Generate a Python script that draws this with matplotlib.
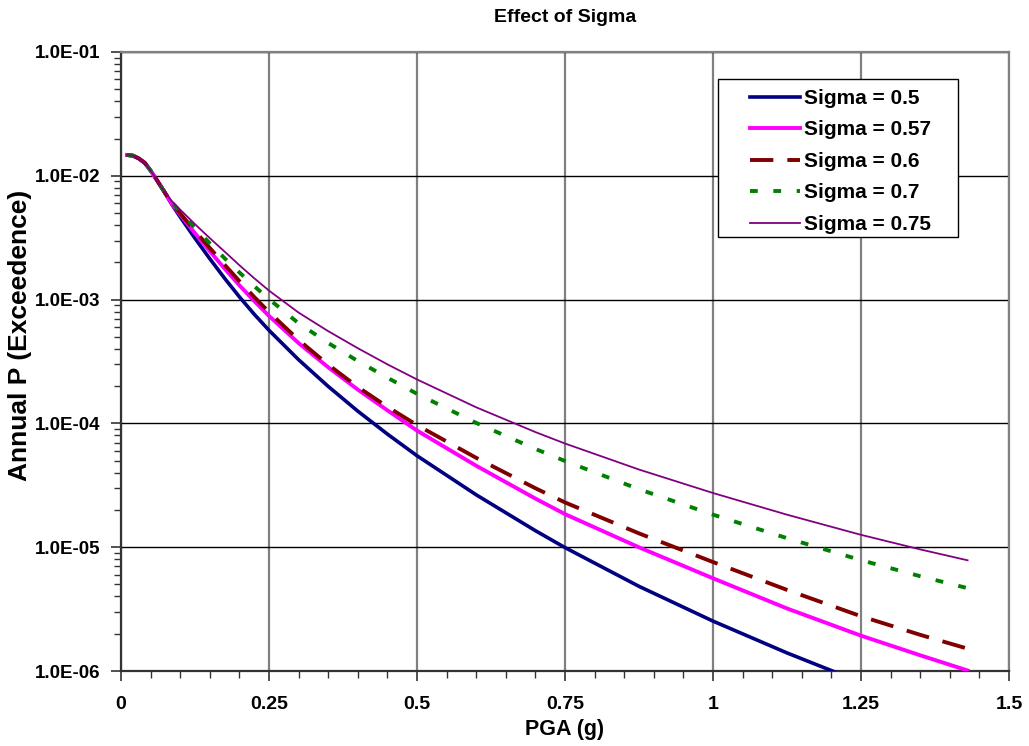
import matplotlib
matplotlib.use("Agg")
import matplotlib.pyplot as plt
from matplotlib.patches import Rectangle
from matplotlib.ticker import FixedLocator, LogLocator, NullFormatter, MultipleLocator

plt.rcParams['font.family'] = ['Liberation Sans', 'DejaVu Sans']

# ---- data ----
# shared low-PGA part (all curves coincide)
x_start = [0.01, 0.02, 0.03, 0.04, 0.05, 0.06, 0.07]
p_start = [0.01472, 0.01455, 0.01380, 0.01274, 0.01102, 0.00933, 0.00785]

x_main = [0.085, 0.1, 0.125, 0.15, 0.175, 0.2, 0.225, 0.25, 0.3, 0.35, 0.4, 0.45, 0.5,
          0.6, 0.7, 0.75, 0.875, 1.0, 1.125, 1.25, 1.35, 1.43]

p_sigma_050 = [0.005957, 0.004645, 0.003126, 0.002138, 0.001486, 0.001052, 7.62e-4, 5.65e-4,
               3.27e-4, 1.99e-4, 1.256e-4, 8.2e-5, 5.48e-5, 2.65e-5, 1.36e-5, 9.93e-6,
               4.83e-6, 2.53e-6, 1.40e-6, 8.1e-7]
p_sigma_057 = [0.006026, 0.004848, 0.003432, 0.002458, 0.001780, 0.001305, 9.73e-4, 7.38e-4,
               4.45e-4, 2.84e-4, 1.875e-4, 1.275e-4, 8.75e-5, 4.55e-5, 2.47e-5, 1.85e-5,
               9.98e-6, 5.61e-6, 3.20e-6, 1.93e-6, 1.34e-6, 1.01e-6]
p_sigma_060 = [0.006095, 0.004971, 0.003581, 0.002612, 0.001914, 0.001409, 0.00105, 7.93e-4,
               4.72e-4, 2.98e-4, 1.968e-4, 1.361e-4, 9.69e-5, 5.27e-5, 2.995e-5, 2.30e-5,
               1.293e-5, 7.59e-6, 4.52e-6, 2.77e-6, 1.96e-6, 1.516e-6]
p_sigma_070 = [0.006166, 0.005117, 0.003793, 0.002844, 0.002158, 0.001656, 0.001285, 0.001009,
               6.44e-4, 4.46e-4, 3.19e-4, 2.34e-4, 1.734e-4, 1.009e-4, 6.22e-5, 4.97e-5,
               2.94e-5, 1.832e-5, 1.183e-5, 7.86e-6, 5.83e-6, 4.67e-6]
p_sigma_075 = [0.00631, 0.005325, 0.004064, 0.003136, 0.002442, 0.001895, 0.001488, 0.001182,
               7.85e-4, 5.56e-4, 4.05e-4, 3.0e-4, 2.265e-4, 1.349e-4, 8.51e-5, 6.88e-5,
               4.24e-5, 2.74e-5, 1.831e-5, 1.259e-5, 9.6e-6, 7.84e-6]

labels = ["Sigma = 0.5", "Sigma = 0.57", "Sigma = 0.6", "Sigma = 0.7", "Sigma = 0.75"]
x_ticks = [0, 0.25, 0.5, 0.75, 1, 1.25, 1.5]
x_tick_labels = ["0", "0.25", "0.5", "0.75", "1", "1.25", "1.5"]
y_ticks = [1e-6, 1e-5, 1e-4, 1e-3, 1e-2, 1e-1]
y_tick_labels = ["1.0E-06", "1.0E-05", "1.0E-04", "1.0E-03", "1.0E-02", "1.0E-01"]

series = [p_sigma_050, p_sigma_057, p_sigma_060, p_sigma_070, p_sigma_075]
styles = [
    dict(color="#000080", lw=2.6, ls="-"),
    dict(color="#FF00FF", lw=2.8, ls="-"),
    dict(color="#800000", lw=2.8, ls=(0, (6, 3.6))),
    dict(color="#008000", lw=2.8, ls=(0, (2, 4))),
    dict(color="#800080", lw=1.3, ls="-"),
]

fig = plt.figure(figsize=(10.29, 7.46), dpi=100)
ax = fig.add_axes([0.1176, 0.1005, 0.8630, 0.8298])

for vals, lab, st in zip(series, labels, styles):
    ax.plot(x_start + x_main[:len(vals)], p_start + vals, label=lab, **st, zorder=3)

ax.set_yscale("log")
ax.set_xlim(0, 1.5)
ax.set_ylim(1e-6, 1e-1)

ax.xaxis.set_major_locator(FixedLocator(x_ticks))
ax.set_xticklabels(x_tick_labels)
ax.xaxis.set_minor_locator(MultipleLocator(0.05))
ax.yaxis.set_major_locator(FixedLocator(y_ticks))
ax.set_yticklabels(y_tick_labels)
ax.yaxis.set_minor_locator(LogLocator(base=10, subs=range(2, 10), numticks=20))
ax.yaxis.set_minor_formatter(NullFormatter())

for lbl in ax.get_xticklabels():
    lbl.set_fontweight("bold")
    lbl.set_fontsize(14)
for lbl in ax.get_yticklabels():
    lbl.set_fontweight("bold")
    lbl.set_fontsize(13.5)

ax.tick_params(axis="both", which="major", direction="out", length=7, width=1.2, color="#333333")
ax.tick_params(axis="both", which="minor", direction="out", length=5, width=1.0, color="#333333")
ax.tick_params(axis="x", which="major", pad=11)
ax.tick_params(axis="y", which="major", pad=8)

ax.grid(True, axis="x", which="major", color="#808080", lw=1.6, zorder=1)
ax.grid(True, axis="y", which="major", color="black", lw=1.0, zorder=1)
ax.set_axisbelow(True)

ax.spines["left"].set_color("#333333")
ax.spines["bottom"].set_color("#333333")
ax.spines["top"].set_color("#808080")
ax.spines["right"].set_color("#808080")
for s in ax.spines.values():
    s.set_linewidth(1.6)

ax.set_xlabel("PGA (g)", fontsize=15.5, fontweight="bold", labelpad=4)
ax.set_ylabel("Annual P (Exceedence)", fontsize=19, fontweight="bold")
ax.yaxis.label.set_va("center")
ax.yaxis.set_label_coords(-0.1137, 0.543)
fig.text(0.549, 0.976, "Effect of Sigma", ha="center", va="center", fontsize=14, fontweight="bold")

# legend box drawn explicitly (Excel-style wide padding)
ax.add_patch(Rectangle((0.6723, 0.7011), 0.9426 - 0.6723, 0.9564 - 0.7011,
                       transform=ax.transAxes, facecolor="white", edgecolor="black",
                       lw=1.0, zorder=4))
leg = ax.legend(loc="upper left", bbox_to_anchor=(0.7083, 0.9405), borderaxespad=0,
                borderpad=0, frameon=False, prop=dict(weight="bold", size=15),
                handlelength=2.4, handletextpad=0.2, labelspacing=0.6)
leg.set_zorder(5)

fig.savefig("out.png", dpi=100)
